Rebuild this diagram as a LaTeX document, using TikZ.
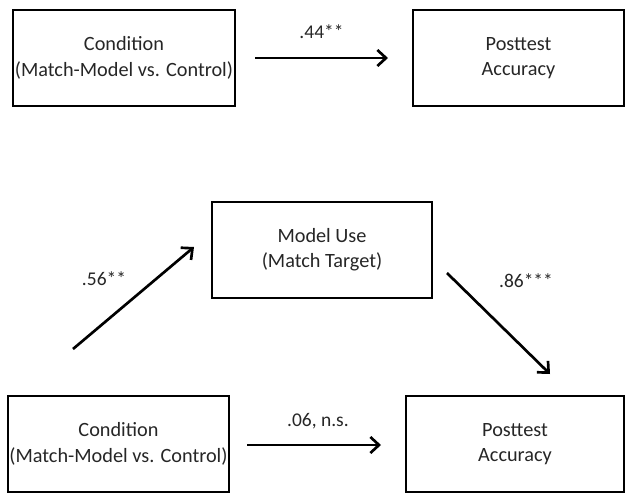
\documentclass[tikz,border=0pt]{standalone}
\usepackage{fontspec}
\setmainfont{Carlito}
\usetikzlibrary{arrows.meta}
\begin{document}
\begin{tikzpicture}[x=0.75pt,y=-0.75pt,
  box/.style={draw=black,line width=1.1pt,inner sep=0pt,align=center,
    font=\fontsize{15.2}{19}\selectfont,text=black!85},
  lab/.style={font=\fontsize{14.6}{18}\selectfont,text=black!85},
  conn/.style={line width=2pt,-{Straight Barb[length=6.5pt,width=12pt,line width=2pt]}}]
\useasboundingbox (0,0) rectangle (626,493);
% top model
\node[box,minimum width=222*0.75pt,minimum height=96*0.75pt] (condA) at (124,58) {Condition\\(Match-Model vs. Control)};
\node[box,minimum width=211*0.75pt,minimum height=96*0.75pt] (postA) at (518.5,58) {Posttest\\Accuracy};
\coordinate (a1) at (255,58);
\coordinate (a2) at (388,58);
\draw[conn] (a1) -- node[lab,above=10pt] (l44) {.44**} (a2);
% mediation model
\node[box,minimum width=220*0.75pt,minimum height=96*0.75pt] (model) at (322,250) {Model Use\\(Match Target)};
\node[box,minimum width=221*0.75pt,minimum height=96*0.75pt] (condB) at (118.5,444) {Condition\\(Match-Model vs. Control)};
\node[box,minimum width=218*0.75pt,minimum height=96*0.75pt] (postB) at (515,444) {Posttest\\Accuracy};
\coordinate (b1) at (73,349);
\coordinate (b2) at (194,247);
\coordinate (c1) at (447,273);
\coordinate (c2) at (550,374);
\coordinate (d1) at (247,445);
\coordinate (d2) at (381,445);
\draw[conn] (b1) -- (b2);
\draw[conn] (c1) -- (c2);
\draw[conn] (d1) -- (d2);
\node[lab] (l56) at (104,279) {.56**};
\node[lab] (l86) at (526,281) {.86***};
\node[lab] (l06) at (318,421) {.06, n.s.};
\end{tikzpicture}
\end{document}
